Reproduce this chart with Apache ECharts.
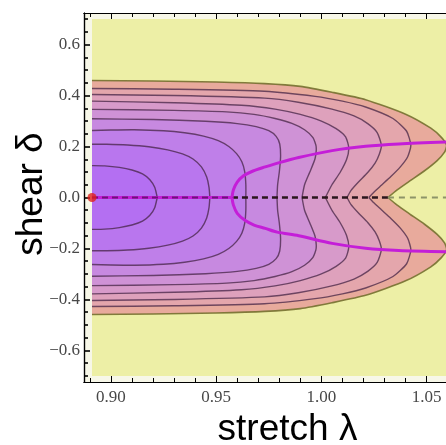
<!DOCTYPE html>
<html>
<head>
<meta charset="utf-8">
<script src="https://cdn.jsdelivr.net/npm/echarts@6/dist/echarts.min.js"></script>
<style>
  html, body { margin: 0; padding: 0; background: #ffffff; }
  #chart { width: 446px; height: 445px; }
</style>
</head>
<body>
<div id="chart"></div>
<script>
// Axis extents (stretch λ horizontally, shear δ vertically)
const lambdaRange = [0.8872, 1.0592];
const deltaRange = [-0.724, 0.724];

// Computed domain of the landscape
const domainLambda = [0.891, 1.08];
const domainDelta = [-0.7, 0.7];

// Ticks and their labels
const xMajorTicks = [0.90, 0.95, 1.00, 1.05];
const xTickLabels = ['0.90', '0.95', '1.00', '1.05'];
const xMinorTicks = [0.89, 0.91, 0.92, 0.93, 0.94, 0.96, 0.97, 0.98, 0.99, 1.01, 1.02, 1.03, 1.04];
const yMajorTicks = [-0.6, -0.4, -0.2, 0.0, 0.2, 0.4, 0.6];
const yTickLabels = ['\u22120.6', '\u22120.4', '\u22120.2', '0.0', '0.2', '0.4', '0.6'];
const yMinorTicks = [-0.70, -0.65, -0.55, -0.50, -0.45, -0.35, -0.30, -0.25, -0.15, -0.10, -0.05,
                     0.05, 0.10, 0.15, 0.25, 0.30, 0.35, 0.45, 0.50, 0.55, 0.65, 0.70];

// Energy contours, upper half (δ >= 0) from the left edge to the δ = 0 crossing.
// The landscape is symmetric in δ, so the lower half is the mirror image.
const contour9 = [[0.891,0.459],[0.92,0.457],[0.95,0.453],[0.973,0.447],[0.99,0.436],[1.005,0.413],[1.021,0.384],[1.04,0.327],[1.052,0.272],[1.057,0.236],[1.0595,0.205],[1.0585,0.178],[1.055,0.145],[1.049,0.105],[1.042,0.065],[1.036,0.03],[1.0316,0]];
const contour8 = [[0.891,0.428],[0.93,0.425],[0.973,0.417],[0.997,0.397],[1.01,0.378],[1.021,0.355],[1.034,0.31],[1.0405,0.26],[1.0425,0.205],[1.041,0.16],[1.0375,0.12],[1.033,0.082],[1.0285,0.048],[1.0248,0.02],[1.0225,0]];
const contour7 = [[0.891,0.404],[0.93,0.40],[0.973,0.39],[0.989,0.374],[1.005,0.347],[1.0155,0.32],[1.022,0.29],[1.0265,0.255],[1.0285,0.205],[1.0275,0.17],[1.0255,0.135],[1.022,0.098],[1.0175,0.06],[1.014,0.027],[1.0122,0]];
const contour6 = [[0.891,0.378],[0.93,0.372],[0.962,0.362],[0.978,0.347],[0.99,0.326],[1.0,0.3],[1.007,0.27],[1.0115,0.238],[1.013,0.195],[1.012,0.15],[1.009,0.1],[1.005,0.05],[1.0019,0]];
const contour5 = [[0.891,0.346],[0.93,0.342],[0.955,0.336],[0.968,0.326],[0.978,0.31],[0.986,0.291],[0.992,0.266],[0.996,0.235],[0.9975,0.2],[0.997,0.153],[0.9945,0.1],[0.992,0.05],[0.9908,0]];
const contour4 = [[0.891,0.309],[0.92,0.306],[0.945,0.299],[0.96,0.29],[0.969,0.278],[0.975,0.262],[0.9785,0.24],[0.9802,0.21],[0.9806,0.16],[0.98,0.1],[0.9792,0.05],[0.9789,0]];
const contour3 = [[0.891,0.263],[0.9,0.265],[0.911,0.266],[0.925,0.262],[0.935,0.254],[0.944,0.241],[0.951,0.223],[0.956,0.2],[0.9597,0.172],[0.9622,0.14],[0.9636,0.1],[0.9641,0.05],[0.9641,0]];
const contour2 = [[0.891,0.209],[0.898,0.209],[0.908,0.206],[0.918,0.199],[0.927,0.187],[0.934,0.171],[0.939,0.151],[0.943,0.12],[0.9455,0.08],[0.9466,0.04],[0.947,0]];
const contour1 = [[0.891,0.125],[0.897,0.124],[0.904,0.118],[0.910,0.108],[0.915,0.093],[0.9185,0.07],[0.9208,0.04],[0.922,0]];

// Equilibrium branches
const stableBranch = [[0.891, 0], [0.9575, 0]];
const unstableInside = [[0.9575, 0], [1.0316, 0]];
const unstableOutside = [[1.0316, 0], [1.07, 0]];
const upperBranch = [[0.9575,0],[0.9582,0.03],[0.96,0.06],[0.963,0.085],[0.9675,0.104],[0.9733,0.12],[0.98,0.137],[0.9892,0.157],[1.0051,0.184],[1.021,0.201],[1.0368,0.21],[1.06,0.218]];
const lowerBranch = [[0.9575,0],[0.9582,-0.03],[0.96,-0.062],[0.9635,-0.088],[0.968,-0.108],[0.9733,-0.121],[0.979,-0.136],[0.9892,-0.15],[1.0051,-0.18],[1.021,-0.199],[1.0368,-0.208],[1.06,-0.213]];
const referencePoint = [[0.891, 0]];

// Fill colours, outermost band first
const bandColors = ['#E8AA9C', '#E4A6AC', '#DEA1BC', '#D79ACA', '#CF92D6', '#C789E0', '#BF7FE9', '#B976EE', '#B46FF2'];
const contours = [contour9, contour8, contour7, contour6, contour5, contour4, contour3, contour2, contour1];

// Close a contour: lead in from the frame (hidden under the margin strip),
// run along the upper half and come back along its mirror image.
function closedOutline(upper) {
  const lead = [[lambdaRange[0], upper[0][1]]].concat(upper);
  const lower = lead.slice().reverse().map(p => [p[0], -p[1]]);
  return lead.concat(lower.slice(1));
}
const outlines = contours.map(closedOutline);

const chart = echarts.init(document.getElementById('chart'), null, { renderer: 'canvas' });

const marginColor = '#F7F7E8';
const labelFont = { fontFamily: 'Liberation Serif', fontSize: 17, color: '#484848' };
const black = { color: '#000', width: 1 };

function xAxisDef(pos, ticks, len, labels) {
  return {
    type: 'value', min: lambdaRange[0], max: lambdaRange[1], position: pos, z: 10,
    axisLine: { show: true, onZero: false, lineStyle: { color: '#000', width: 1.2 } },
    axisTick: { show: true, inside: true, length: len, customValues: ticks, lineStyle: black },
    axisLabel: labels ? Object.assign({
      show: true, customValues: xMajorTicks, margin: 7,
      formatter: v => xTickLabels[xMajorTicks.findIndex(t => Math.abs(t - v) < 1e-6)]
    }, labelFont) : { show: false },
    splitLine: { show: false }
  };
}
function yAxisDef(ticks, len, labels) {
  return {
    type: 'value', min: deltaRange[0], max: deltaRange[1], position: 'left', z: 10,
    axisLine: { show: true, onZero: false, lineStyle: { color: '#000', width: 1.2 } },
    axisTick: { show: true, inside: true, length: len, customValues: ticks, lineStyle: { color: '#000', width: 1.6 } },
    axisLabel: labels ? Object.assign({
      show: true, customValues: yMajorTicks, margin: 4,
      formatter: v => yTickLabels[yMajorTicks.findIndex(t => Math.abs(t - v) < 1e-6)]
    }, labelFont) : { show: false },
    splitLine: { show: false }
  };
}

const xAxes = [
  xAxisDef('bottom', xMajorTicks, 6, true),
  xAxisDef('bottom', xMinorTicks, 4, false),
  xAxisDef('top', xMajorTicks, 6, false),
  xAxisDef('top', xMinorTicks, 4, false)
];
xAxes[0].name = 'stretch \u03bb';
xAxes[0].nameLocation = 'middle';
xAxes[0].nameGap = 29;
xAxes[0].nameMoveOverlap = false;
xAxes[0].nameTextStyle = { fontFamily: 'Liberation Sans', fontSize: 37, color: '#000', padding: [0, 0, 0, 45] };

const yAxes = [yAxisDef(yMajorTicks, 6, true), yAxisDef(yMinorTicks, 4, false)];
yAxes[0].name = 'shear \u03b4';
yAxes[0].nameLocation = 'middle';
yAxes[0].nameGap = 34;
yAxes[0].nameMoveOverlap = false;
yAxes[0].nameTextStyle = { fontFamily: 'Liberation Sans', fontSize: 37, color: '#000', padding: [0, 0, 0, 7] };

chart.setOption({
  animation: false,
  backgroundColor: '#ffffff',
  grid: { left: 84, right: 0, top: 13, bottom: 63, containLabel: false, outerBoundsMode: 'none',
          show: true, backgroundColor: marginColor, borderWidth: 0 },
  xAxis: xAxes,
  yAxis: yAxes,
  series: [
    {
      // the computed domain, background colour of the landscape
      type: 'custom', clip: true, silent: true,
      data: [[0]],
      renderItem: (params, api) => {
        const a = api.coord([domainLambda[0], domainDelta[1]]);
        const b = api.coord([domainLambda[1], domainDelta[0]]);
        return { type: 'rect', shape: { x: a[0], y: a[1], width: b[0] - a[0], height: b[1] - a[1] },
                 style: { fill: '#EDEFA6' } };
      }
    },
    {
      // filled energy contours
      type: 'custom', clip: true, silent: true,
      data: outlines.map((_, i) => [i]),
      renderItem: (params, api) => {
        const i = api.value(0);
        const pts = outlines[i].map(p => api.coord(p));
        const n = contours[i].length + 1;
        const upperPts = pts.slice(0, n);
        const lowerPts = pts.slice(n - 1);
        // keep bezier control points inside the frame
        const lo = api.coord([lambdaRange[0], deltaRange[1]]);
        const hi = api.coord([lambdaRange[1] + 0.05, deltaRange[0]]);
        const bounds = [[lo[0], lo[1]], [hi[0], hi[1]]];
        const stroke = i === 0 ? 'rgba(118,112,48,0.9)' : 'rgba(70,36,70,0.75)';
        const lw = i === 0 ? 1.6 : 1.4;
        return {
          type: 'group',
          children: [
            { type: 'polygon', shape: { points: pts, smooth: 0.2, smoothConstraint: bounds }, style: { fill: bandColors[i], stroke: null } },
            { type: 'polyline', shape: { points: upperPts, smooth: 0.2, smoothConstraint: bounds }, style: { fill: null, stroke: stroke, lineWidth: lw } },
            { type: 'polyline', shape: { points: lowerPts, smooth: 0.2, smoothConstraint: bounds }, style: { fill: null, stroke: stroke, lineWidth: lw } }
          ]
        };
      }
    },
    {
      // blank margin between the frame and the left border of the domain
      type: 'custom', clip: true, silent: true,
      data: [[0]],
      renderItem: (params, api) => {
        const a = api.coord([lambdaRange[0], deltaRange[1]]);
        const b = api.coord([domainLambda[0], deltaRange[0]]);
        return { type: 'rect', shape: { x: a[0], y: a[1], width: b[0] - a[0], height: b[1] - a[1] },
                 style: { fill: marginColor } };
      }
    },
    {
      type: 'line', data: stableBranch, showSymbol: false, silent: true,
      lineStyle: { color: '#C41ED8', width: 3.2 }
    },
    {
      type: 'line', data: stableBranch, showSymbol: false, silent: true,
      lineStyle: { color: 'rgba(40,10,50,0.55)', width: 2, type: [6, 4] }
    },
    {
      type: 'line', data: unstableInside, showSymbol: false, silent: true,
      lineStyle: { color: '#2a161c', width: 2.4, type: [6, 4] }
    },
    {
      type: 'line', data: unstableOutside, showSymbol: false, silent: true,
      lineStyle: { color: '#8d9468', width: 2.2, type: [6, 5] }
    },
    {
      type: 'line', data: upperBranch, showSymbol: false, smooth: 0.3, silent: true,
      lineStyle: { color: '#C41ED8', width: 3 }
    },
    {
      type: 'line', data: lowerBranch, showSymbol: false, smooth: 0.3, silent: true,
      lineStyle: { color: '#C41ED8', width: 3 }
    },
    {
      type: 'scatter', data: referencePoint, symbolSize: 9, clip: false, silent: true, z: 12,
      itemStyle: { color: '#E0201C' }
    }
  ]
});
</script>
</body>
</html>
